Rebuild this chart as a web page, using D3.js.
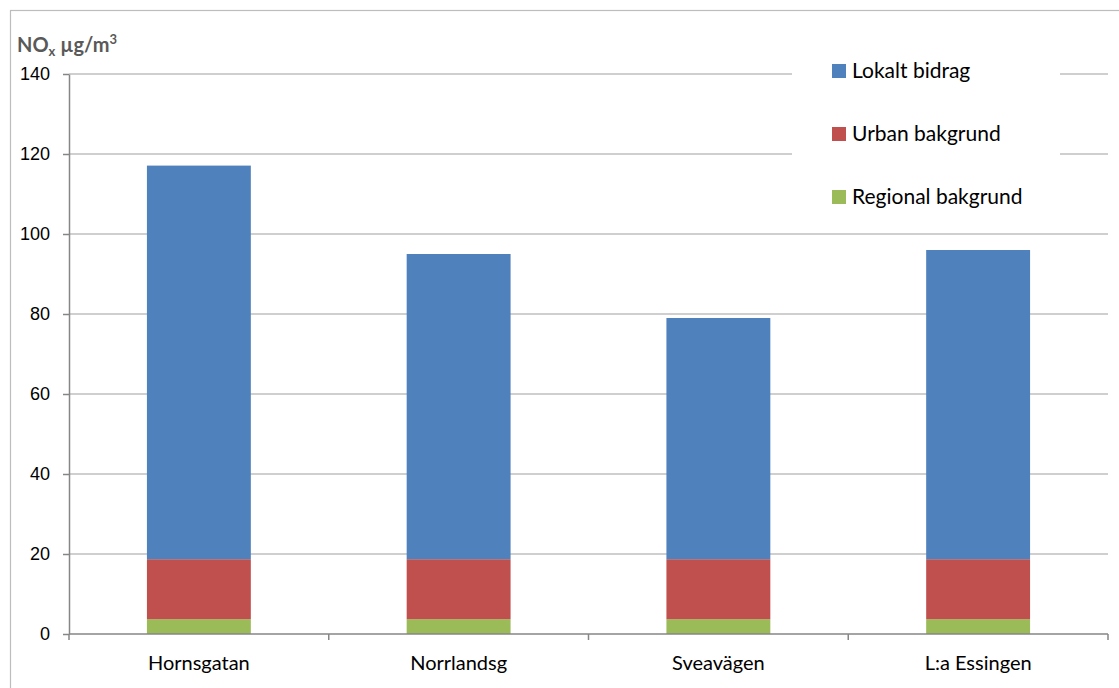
<!DOCTYPE html>
<html>
<head>
<meta charset="utf-8">
<script src="https://cdn.jsdelivr.net/npm/d3@7"></script>
<style>
  body{margin:0;background:#fff;}
  svg{font-family:Lato,"Open Sans",sans-serif;}
  .grid line{stroke:#bfbfbf;stroke-width:1.5;}
  .axis path,.axis line{stroke:#868686;stroke-width:1.5;}
  .axis text{fill:#000;font-size:18px;}
  .axis text.cat{font-size:20px;}
</style>
</head>
<body>
<div id="canvas"></div>
<script>
// data
var stations = ['Hornsgatan','Norrlandsg','Sveavägen','L:a Essingen'];
var regional = [3.7,3.7,3.7,3.7];
var urban = [15.0,15.0,15.0,15.0];
var lokalt = [98.4,76.3,60.3,77.3];
var seriesNames = ['Regional bakgrund','Urban bakgrund','Lokalt bidrag'];
var seriesColors = ['#9bbb59','#c0504d','#4f81bd'];
var yTicks = [0,20,40,60,80,100,120,140];

var W = 1119, H = 688;
var m = {t:74,r:11,b:54,l:69};
var w = W - m.l - m.r,
    h = H - m.t - m.b;

var svg = d3.select('#canvas').append('svg')
    .attr('width',W)
    .attr('height',H);

// outer chart border
svg.append('rect')
    .attr('x',10.5).attr('y',10.5)
    .attr('width',W).attr('height',H)
    .attr('fill','none').attr('stroke','#bdbdbd').attr('stroke-width',1.2);

var plot = svg.append('g')
    .attr('transform','translate(' + m.l + ',' + m.t + ')');

var rows = stations.map(function(s,i){
    return {station:s,'Regional bakgrund':regional[i],'Urban bakgrund':urban[i],'Lokalt bidrag':lokalt[i]};
});

var scaleX = d3.scaleBand()
    .domain(stations)
    .range([0,w])
    .paddingInner(.6)
    .paddingOuter(.3);
var scaleY = d3.scaleLinear()
    .domain([0,140])
    .range([h,0]);

// gridlines
plot.append('g').attr('class','grid')
    .selectAll('line')
    .data(yTicks.slice(1))
    .enter().append('line')
    .attr('x1',0).attr('x2',w)
    .attr('y1',function(d){return scaleY(d)})
    .attr('y2',function(d){return scaleY(d)});

// legend background covers gridlines
var legend = svg.append('g');
legend.append('rect')
    .attr('x',792).attr('y',48)
    .attr('width',268).attr('height',168)
    .attr('fill','#fff');

// stacked bars
var stack = d3.stack().keys(seriesNames)(rows);
plot.selectAll('g.layer')
    .data(stack)
    .enter().append('g')
    .attr('class','layer')
    .attr('fill',function(d,i){return seriesColors[i]})
    .selectAll('rect')
    .data(function(d){return d})
    .enter().append('rect')
    .attr('x',function(d){return scaleX(d.data.station)})
    .attr('width',scaleX.bandwidth())
    .attr('y',function(d){return scaleY(d[1])})
    .attr('height',function(d){return scaleY(d[0])-scaleY(d[1])});

// y axis
var axisY = d3.axisLeft(scaleY)
    .tickValues(yTicks)
    .tickSize(6)
    .tickPadding(13)
    .tickSizeOuter(0);
plot.append('g').attr('class','axis').call(axisY);

// x axis, ticks at category boundaries
var step = scaleX.step();
var bounds = d3.range(stations.length+1).map(function(i){return i*step});
var xAxis = plot.append('g').attr('class','axis')
    .attr('transform','translate(0,' + h + ')');
xAxis.append('line')
    .attr('x1',0).attr('x2',w).attr('y1',0).attr('y2',0);
xAxis.selectAll('line.tick')
    .data(bounds)
    .enter().append('line')
    .attr('class','tick')
    .attr('x1',function(d){return d}).attr('x2',function(d){return d})
    .attr('y1',0).attr('y2',6);
xAxis.selectAll('text')
    .data(stations)
    .enter().append('text')
    .attr('class','cat')
    .attr('x',function(d){return scaleX(d)+scaleX.bandwidth()/2})
    .attr('y',36)
    .attr('text-anchor','middle')
    .text(function(d){return d});

// unit label
var title = svg.append('text')
    .attr('x',17).attr('y',52)
    .attr('fill','#595959')
    .attr('font-weight','bold')
    .attr('font-size',20);
title.append('tspan').text('NO');
title.append('tspan').attr('font-size',13).attr('dy',4).text('x');
title.append('tspan').attr('dy',-4).text(' µg/m');
title.append('tspan').attr('font-size',13).attr('dy',-8).text('3');

// legend entries, top to bottom
var legendItems = seriesNames.slice().reverse();
var legendColors = seriesColors.slice().reverse();
var li = legend.selectAll('g.item')
    .data(legendItems)
    .enter().append('g')
    .attr('class','item')
    .attr('transform',function(d,i){return 'translate(832,' + (64 + i*63) + ')'});
li.append('rect')
    .attr('width',14).attr('height',14)
    .attr('fill',function(d,i){return legendColors[i]});
li.append('text')
    .attr('x',20).attr('y',14)
    .attr('font-size',21)
    .attr('fill','#000')
    .text(function(d){return d});
</script>
</body>
</html>
